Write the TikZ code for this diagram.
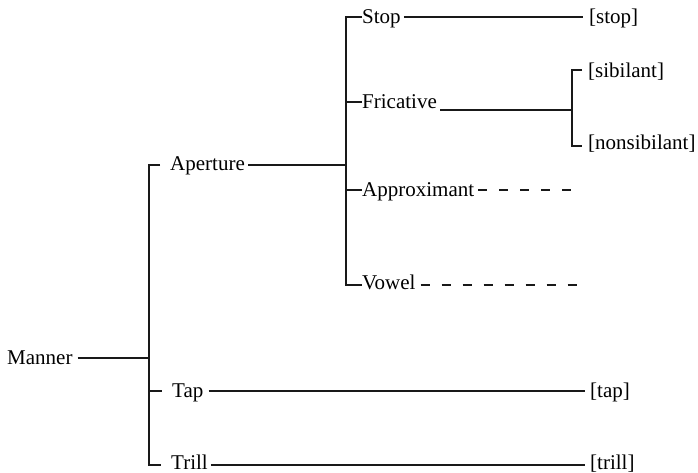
\documentclass[tikz,border=0pt]{standalone}
\usepackage{fontspec}
\setmainfont{Liberation Serif}
\usetikzlibrary{calc}
\begin{document}
\begin{tikzpicture}[x=1pt,y=-1pt,
  lbl/.style={inner sep=0pt, anchor=west, text height=13.5pt, text depth=0pt, font=\fontsize{21}{24}\selectfont},
  ln/.style={line width=1.1pt, draw=black!90},
  dsh/.style={ln, dash pattern=on 9pt off 12pt}]
\useasboundingbox (0,0) rectangle (698,473);
% labels
\node[lbl] (manner) at (7,358) {Manner};
\node[lbl] (aperture) at (170,164) {Aperture};
\node[lbl] (tap) at (172,391) {Tap};
\node[lbl] (trill) at (171,463) {Trill};
\node[lbl] (stop) at (362,17) {Stop};
\node[lbl] (fric) at (362,102) {Fricative};
\node[lbl] (approx) at (362,190) {Approximant};
\node[lbl] (vowel) at (362,283) {Vowel};
\node[lbl] (stopf) at (589,17) {[stop]};
\node[lbl] (sib) at (588,71) {[sibilant]};
\node[lbl] (nonsib) at (588,143) {[nonsibilant]};
\node[lbl] (tapf) at (590,391) {[tap]};
\node[lbl] (trillf) at (590,463) {[trill]};
% junctions
\coordinate (j1) at (149,358);
\coordinate (trA) at (149,165);
\coordinate (trB) at (149,465);
\coordinate (apA) at (346,17);
\coordinate (apM) at (346,165);
\coordinate (apB) at (346,285);
\coordinate (fj) at (572,110);
\coordinate (sA) at (572,70);
\coordinate (sB) at (572,146);
\coordinate (apEnd) at (576,190);
\coordinate (vEnd) at (580,285);
% first level
\draw[ln] ($(manner.east |- j1)+(5,0)$) -- (j1);
\draw[ln] ([xshift=-10pt]aperture.west |- trA) -- (trA) -- (trB) -- ([xshift=-10pt]trill.west |- trB);
\draw[ln] (tap.west -| trA) -- ([xshift=-10pt]tap.west);
% aperture
\draw[ln] ([xshift=3pt]aperture.east |- apM) -- (apM);
\draw[ln] (stop.west) -- (apA) -- (apB) -- (vowel.west |- apB);
\draw[ln] (fric.west -| apA) -- (fric.west);
\draw[ln] (approx.west -| apA) -- (approx.west);
% terminals
\draw[ln] ([xshift=3pt]stop.east) -- ([xshift=-6pt]stopf.west);
\draw[ln] ($(fric.east |- fj)+(3,0)$) -- (fj);
\draw[ln] ($(sib.west |- sA)+(-6,0)$) -- (sA) -- (sB) -- ($(nonsib.west |- sB)+(-6,0)$);
\draw[dsh] ([xshift=4pt]approx.east) -- (apEnd);
\draw[dsh] ($(vowel.east |- vEnd)+(5,0)$) -- (vEnd);
\draw[ln] ([xshift=5pt]tap.east) -- ([xshift=-5pt]tapf.west);
\draw[ln] ($(trill.east |- trB)+(3,0)$) -- ($(trillf.west |- trB)+(-5,0)$);
\end{tikzpicture}
\end{document}
